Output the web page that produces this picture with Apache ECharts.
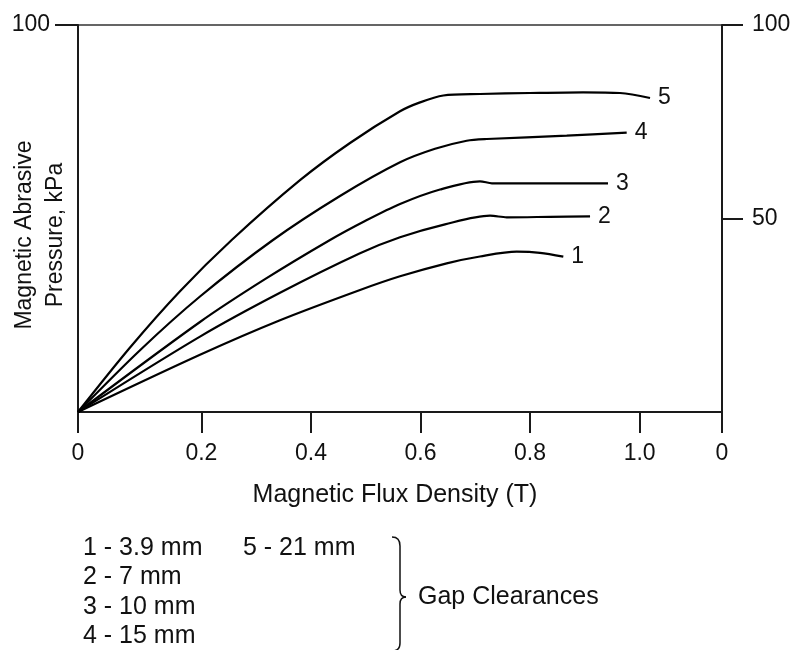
<!DOCTYPE html>
<html>
<head>
<meta charset="utf-8">
<script src="https://cdn.jsdelivr.net/npm/echarts@6/dist/echarts.min.js"></script>
<style>
html,body{margin:0;padding:0;background:#fff;}
#c{width:794px;height:650px;}
</style>
</head>
<body>
<div id="c"></div>
<script>
// ---- data (x: magnetic flux density, T ; y: pressure, kPa) ----
const curveNames = ['1', '2', '3', '4', '5'];
const curve1 = [[-0.0253,0],[0.1974,14.78],[0.3435,23.70],[0.4896,31.52],[0.5626,35.06],[0.6478,38.42],[0.7086,40.18],[0.7756,41.42],[0.8181,41.14],[0.8607,40.13]];
const curve2 = [[-0.0253,0],[0.1974,19.48],[0.3435,30.80],[0.4896,41.01],[0.5626,45.14],[0.6447,48.48],[0.7269,50.72],[0.7574,50.31],[0.8365,50.44],[0.9095,50.57]];
const curve3 = [[-0.0253,0],[0.1974,23.26],[0.3161,34.32],[0.4348,44.44],[0.4987,49.35],[0.5626,53.75],[0.6356,57.49],[0.7086,59.61],[0.7305,59.10],[0.8364,59.10],[0.9423,59.10]];
const curve4 = [[-0.0253,0],[0.0879,15.97],[0.1974,29.84],[0.3307,44.44],[0.4530,55.81],[0.5626,64.52],[0.6265,68.01],[0.6843,70.10],[0.7209,70.54],[0.8669,71.40],[0.9764,72.17]];
const curve5 = [[-0.0253,0],[0.0697,16.67],[0.1609,31.21],[0.2553,44.44],[0.3800,59.90],[0.4713,69.51],[0.5626,77.70],[0.5991,80.00],[0.6416,81.78],[0.7086,82.17],[0.7999,82.43],[0.8967,82.61],[0.9642,82.43],[1.0190,81.14]];
const curves = [curve1, curve2, curve3, curve4, curve5];

const xAxisStart = -0.0253;   // left end of the drawn axis (labelled 0)
const xAxisEnd = 1.1504;      // right end of the drawn axis (labelled 0)
const xTickValues = [xAxisStart, 0.2, 0.4, 0.6, 0.8, 1.0, xAxisEnd];
const xTickLabels = ['0', '0.2', '0.4', '0.6', '0.8', '1.0', '0'];
const yLeftTicks = [100];
const yRightTicks = [50, 100];

const gapLegendLeft = ['1 - 3.9 mm', '2 - 7 mm', '3 - 10 mm', '4 - 15 mm'];
const gapLegendRight = ['5 - 21 mm'];
const gapTitle = 'Gap Clearances';
const xTitle = 'Magnetic Flux Density (T)';
const yTitle = 'Magnetic Abrasive\nPressure, kPa';

// ---- chart ----
const FONT = '"Liberation Sans", Arial, sans-serif';
const chart = echarts.init(document.getElementById('c'), null, {renderer: 'canvas'});
const axisLineStyle = {color: '#1a1a1a', width: 2};

const series = curves.map((d, i) => ({
  type: 'line',
  name: curveNames[i],
  data: d,
  xAxisIndex: 0,
  yAxisIndex: 0,
  showSymbol: false,
  symbol: 'none',
  smooth: 0.3,
  lineStyle: {color: '#000', width: 2.2},
  endLabel: {
    show: true,
    formatter: '{a}',
    distance: 8,
    color: '#111',
    fontSize: 23,
    fontFamily: FONT
  },
  emphasis: {disabled: true},
  animation: false
}));

const G = [];
const txt = (x, y, t, extra) => Object.assign({type: 'text', x: x, y: y,
  style: Object.assign({text: t, font: '25px ' + FONT, fill: '#111', textVerticalAlign: 'middle'}, extra || {})});
gapLegendLeft.forEach((t, i) => G.push(txt(83, 548 + i * 29.5, t)));
gapLegendRight.forEach((t, i) => G.push(txt(243, 548 + i * 29.5, t)));
G.push(txt(418, 597, gapTitle));
// brace "}"
const braceStyle = {stroke: '#111', lineWidth: 1.5, fill: 'none'};
G.push({type: 'bezierCurve', shape: {x1: 392, y1: 537, cpx1: 398, cpy1: 537, cpx2: 400, cpy2: 540, x2: 400, y2: 546}, style: braceStyle});
G.push({type: 'line', shape: {x1: 400, y1: 546, x2: 400, y2: 590}, style: braceStyle});
G.push({type: 'bezierCurve', shape: {x1: 400, y1: 590, cpx1: 400, cpy1: 594, cpx2: 402, cpy2: 597, x2: 406, y2: 597}, style: braceStyle});
G.push({type: 'bezierCurve', shape: {x1: 406, y1: 597, cpx1: 402, cpy1: 597, cpx2: 400, cpy2: 600, x2: 400, y2: 604}, style: braceStyle});
G.push({type: 'line', shape: {x1: 400, y1: 604, x2: 400, y2: 643}, style: braceStyle});
G.push({type: 'bezierCurve', shape: {x1: 400, y1: 643, cpx1: 400, cpy1: 648, cpx2: 398, cpy2: 651, x2: 392, y2: 651}, style: braceStyle});
// y axis title
G.push({type: 'text', x: 40, y: 235, rotation: Math.PI / 2,
  style: {text: yTitle, font: '23px ' + FONT, fill: '#111', textAlign: 'center', textVerticalAlign: 'middle', lineHeight: 31}});

chart.setOption({
  backgroundColor: '#fff',
  animation: false,
  grid: {left: 78, right: 72, top: 25, bottom: 238, show: true, borderColor: '#333', borderWidth: 1.5},
  xAxis: {
    type: 'value',
    min: xAxisStart,
    max: xAxisEnd,
    name: xTitle,
    nameLocation: 'middle',
    nameGap: 71,
    nameTextStyle: {fontSize: 25, fontFamily: FONT, color: '#111', padding: [0, 10, 0, 0]},
    axisLine: {show: true, onZero: false, lineStyle: axisLineStyle},
    axisTick: {show: true, length: 21, customValues: xTickValues, lineStyle: axisLineStyle},
    axisLabel: {
      customValues: xTickValues,
      margin: 30,
      fontSize: 23,
      fontFamily: FONT,
      color: '#111',
      formatter: v => {
        const k = xTickValues.findIndex(t => Math.abs(t - v) < 1e-6);
        return k >= 0 ? xTickLabels[k] : '';
      }
    },
    splitLine: {show: false}
  },
  yAxis: [{
    type: 'value',
    position: 'left',
    min: 0, max: 100,
    axisLine: {show: true, onZero: false, lineStyle: axisLineStyle},
    axisTick: {show: true, length: 23, customValues: yLeftTicks, lineStyle: axisLineStyle},
    axisLabel: {customValues: yLeftTicks, margin: 28, fontSize: 23, fontFamily: FONT, color: '#111'},
    splitLine: {show: false}
  }, {
    type: 'value',
    position: 'right',
    min: 0, max: 100,
    axisLine: {show: true, onZero: false, lineStyle: axisLineStyle},
    axisTick: {show: true, length: 21, customValues: yRightTicks, lineStyle: axisLineStyle},
    axisLabel: {customValues: yRightTicks, margin: 30, fontSize: 23, fontFamily: FONT, color: '#111'},
    splitLine: {show: false}
  }],
  series: series,
  graphic: G
});
</script>
</body>
</html>
